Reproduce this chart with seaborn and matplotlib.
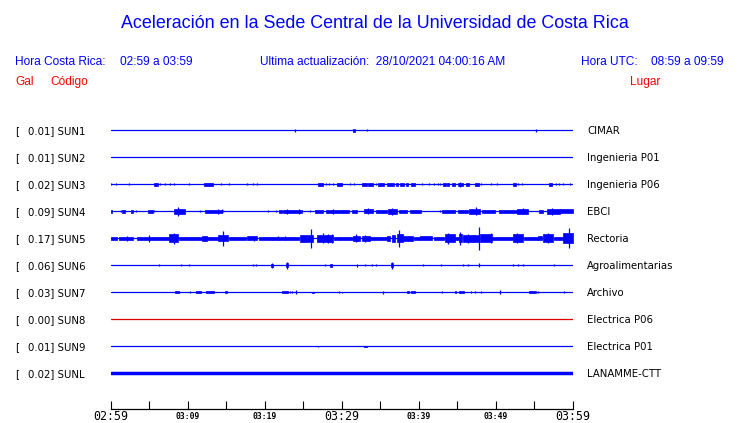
import matplotlib
matplotlib.use("Agg")
import matplotlib.pyplot as plt
import seaborn as sns
import pandas as pd

# stations, peak acceleration (Gal) and place, top to bottom
stations = ["SUN1", "SUN2", "SUN3", "SUN4", "SUN5", "SUN6", "SUN7", "SUN8", "SUN9", "SUNL"]
peak_gal = ["0.01", "0.01", "0.02", "0.09", "0.17", "0.06", "0.03", "0.00", "0.01", "0.02"]
places = ["CIMAR", "Ingenieria P01", "Ingenieria P06", "EBCI", "Rectoria",
          "Agroalimentarias", "Archivo", "Electrica P06", "Electrica P01", "LANAMME-CTT"]
trace_colors = ["#0000ff"] * 7 + ["#e00000"] + ["#0000ff"] * 2

# time axis, minutes after 02:59
tick_minutes = list(range(0, 61, 5))
major_minutes = [0, 30, 60]
major_labels = ["02:59", "03:29", "03:59"]
minor_minutes = [10, 20, 40, 50]
minor_labels = ["03:09", "03:19", "03:39", "03:49"]

# bursts: (start min, end min, half amplitude); start == end is a spike
sun1_bursts = [(23.96, 23.96, 1.3), (31.5, 31.7, 1.3), (33.2, 33.2, 1.0), (55.2, 55.2, 1.3)]
sun2_bursts = []
sun3_bursts = [(0.04, 0.04, 1.2), (0.73, 0.73, 1.2), (2.42, 2.42, 1.2), (5.67, 6.10, 1.3),
               (6.40, 6.40, 1.2), (7.09, 7.09, 1.0), (7.74, 7.74, 1.0), (8.26, 8.26, 1.2),
               (10.21, 10.21, 1.2), (12.07, 13.23, 1.3), (14.36, 14.36, 1.0), (15.35, 15.35, 1.2),
               (17.73, 17.73, 1.0), (18.42, 18.42, 1.0), (19.03, 19.03, 1.0), (26.86, 27.60, 1.3),
               (27.99, 27.99, 1.2), (28.38, 28.38, 1.2), (28.85, 28.85, 1.2), (29.41, 30.02, 1.3),
               (31.01, 31.01, 1.0), (31.53, 31.53, 1.2), (32.57, 33.26, 1.3), (33.39, 34.04, 1.3),
               (34.39, 34.39, 1.0), (34.65, 35.51, 1.3), (35.90, 36.72, 1.3), (37.07, 37.33, 1.3),
               (37.59, 38.07, 1.3), (38.28, 38.54, 1.3), (38.93, 39.45, 1.3), (40.36, 40.36, 1.0),
               (41.31, 41.31, 1.2), (42.00, 42.00, 1.0), (42.44, 42.44, 1.0), (42.78, 42.78, 1.0),
               (43.17, 43.47, 1.3), (43.65, 43.91, 1.3), (44.25, 44.69, 1.3), (45.03, 45.77, 1.7),
               (45.3, 45.3, 2.7), (46.16, 46.50, 1.3), (47.33, 47.76, 1.3), (48.06, 48.06, 1.0),
               (49.40, 49.40, 1.2), (50.18, 50.18, 1.0), (52.26, 52.60, 1.3), (52.86, 52.86, 1.2),
               (53.42, 53.42, 1.2), (56.84, 57.23, 1.3), (57.75, 57.75, 1.0), (58.14, 58.14, 1.0),
               (58.74, 58.74, 1.0), (59.65, 59.65, 1.2)]
sun4_bursts = [(0.0, 0.17, 1.3), (1.29, 1.29, 1.0), (1.51, 1.85, 1.3), (2.64, 2.89, 1.3),
               (3.28, 3.28, 1.0), (4.88, 5.53, 1.5), (5.66, 5.66, 1.0), (8.21, 9.64, 2.7),
               (8.78, 8.78, 4.3), (11.59, 11.59, 1.0), (12.24, 14.40, 1.5), (13.97, 13.97, 2.7),
               (14.40, 14.40, 2.0), (14.62, 14.62, 1.0), (20.37, 20.37, 1.0), (21.45, 21.45, 1.0),
               (21.84, 22.19, 1.3), (22.32, 24.83, 1.8), (22.84, 22.84, 2.7), (24.39, 24.39, 2.7),
               (25.91, 25.91, 1.0), (26.51, 27.51, 1.3), (27.94, 30.19, 1.8), (28.89, 28.89, 2.7),
               (30.19, 30.97, 1.3), (31.28, 32.01, 1.3), (32.88, 34.09, 2.0), (33.44, 33.44, 3.0),
               (34.43, 35.82, 1.3), (35.98, 37.12, 2.3), (36.47, 36.47, 3.3), (37.46, 38.41, 1.3),
               (38.85, 40.23, 1.3), (42.74, 42.74, 1.0), (42.96, 44.69, 1.7), (45.12, 46.42, 1.3),
               (46.50, 47.93, 2.7), (47.41, 47.41, 4.0), (48.14, 49.88, 1.7), (50.44, 52.69, 1.3),
               (52.69, 54.20, 2.3), (53.55, 53.55, 3.0), (55.63, 56.15, 1.3), (56.58, 58.31, 2.3),
               (57.23, 57.23, 3.3), (58.31, 60.0, 2.0)]
sun5_bursts = [(0.0, 0.77, 1.7), (1.12, 2.94, 1.5), (2.16, 2.16, 2.7), (3.4, 7.6, 1.3),
               (5.01, 5.01, 3.3), (7.61, 8.78, 4.0), (8.21, 8.21, 5.7), (8.9, 11.8, 1.3),
               (11.81, 12.45, 2.7), (12.5, 13.9, 1.3), (13.97, 15.27, 3.0), (14.62, 14.62, 7.7),
               (15.4, 17.6, 1.3), (17.65, 18.94, 2.0), (18.60, 18.60, 2.7), (19.3, 24.5, 1.3),
               (20.89, 20.89, 1.7), (21.76, 21.76, 2.0), (22.62, 22.62, 2.0), (24.57, 26.29, 3.3),
               (25.95, 25.95, 9.3), (26.73, 28.89, 3.7), (27.5, 27.5, 5.0), (28.15, 28.15, 4.3),
               (28.75, 28.75, 4.3), (29.0, 31.4, 1.3), (29.67, 29.67, 1.7), (31.49, 32.36, 2.3),
               (31.79, 31.79, 4.0), (32.57, 33.65, 2.3), (33.00, 33.00, 3.3), (33.7, 35.8, 1.3),
               (35.82, 36.25, 2.7), (36.47, 36.90, 3.7), (37.1, 37.9, 4.0), (37.46, 37.46, 8.3),
               (37.98, 39.28, 2.3), (39.3, 40.1, 1.3), (40.14, 41.66, 2.0), (41.95, 43.3, 1.3),
               (43.39, 44.69, 4.0), (43.8, 43.8, 5.3), (44.7, 45.2, 1.3), (45.25, 45.55, 4.0),
               (45.35, 45.35, 6.7), (45.77, 47.07, 3.3), (46.4, 46.4, 4.7), (47.07, 47.75, 3.3),
               (47.98, 49.44, 4.0), (47.84, 47.84, 11.7), (49.3, 49.3, 5.0), (49.5, 52.2, 1.3),
               (52.26, 53.55, 4.0), (52.7, 52.7, 5.0), (53.6, 55.4, 1.3), (55.50, 55.93, 2.0),
               (56.15, 57.46, 4.0), (56.7, 56.7, 5.0), (57.5, 58.7, 1.3), (58.74, 60.0, 5.0),
               (59.5, 59.5, 10.0)]
sun6_bursts = [(6.27, 6.27, 1.0), (9.12, 9.12, 1.0), (10.12, 10.12, 1.0), (18.42, 18.42, 1.0),
               (18.81, 18.81, 1.0), (20.8, 21.0, 1.3), (20.9, 20.9, 2.7), (22.71, 23.01, 2.0),
               (22.86, 22.86, 3.3), (27.81, 27.81, 1.0), (28.46, 28.68, 1.7), (32.01, 32.01, 1.7),
               (33.01, 33.01, 1.0), (33.87, 33.87, 1.0), (34.43, 34.43, 1.0), (36.35, 36.6, 2.0),
               (36.47, 36.47, 3.3), (40.58, 40.58, 1.0), (42.83, 42.83, 1.0), (45.68, 45.68, 1.0),
               (46.33, 46.33, 1.0), (47.84, 47.84, 2.0), (52.26, 52.26, 1.0), (52.91, 52.91, 1.0),
               (53.55, 53.55, 1.0), (57.53, 57.53, 1.0)]
sun7_bursts = [(8.35, 8.86, 1.0), (10.25, 10.25, 1.0), (11.11, 11.72, 1.0), (12.37, 13.45, 1.0),
               (14.83, 15.14, 1.0), (22.23, 22.97, 1.0), (23.23, 23.23, 1.0), (23.49, 23.49, 1.0),
               (24.01, 24.01, 2.0), (26.17, 26.43, 0.7), (29.67, 29.67, 1.0), (29.98, 29.98, 0.7),
               (35.38, 35.38, 1.3), (38.41, 38.71, 1.0), (38.97, 39.45, 1.0), (42.96, 42.96, 1.0),
               (44.69, 44.86, 1.0), (45.21, 45.81, 1.0), (46.81, 46.81, 1.0), (47.33, 47.33, 1.0),
               (48.10, 48.10, 1.0), (50.53, 50.53, 2.0), (54.29, 55.24, 1.0), (55.50, 55.50, 1.0),
               (58.79, 58.79, 1.0)]
sun8_bursts = []
sun9_bursts = [(26.9, 26.9, 0.8), (32.9, 33.3, 0.6)]
sunl_bursts = []
bursts = [sun1_bursts, sun2_bursts, sun3_bursts, sun4_bursts, sun5_bursts,
          sun6_bursts, sun7_bursts, sun8_bursts, sun9_bursts, sunl_bursts]

W, H = 740, 423
first_row, row_step = 130.3, 27.0
axis_y, plot_top = 409.0, 116.8
x_left, x_right = 110.7, 573.0

sns.set_theme(style="white")
plt.rcParams["font.family"] = ["DejaVu Sans"]

fig = plt.figure(figsize=(W / 100, H / 100), dpi=100)
ax = fig.add_axes([x_left / W, (H - axis_y) / H, (x_right - x_left) / W, (axis_y - plot_top) / H])

row_y = [first_row + row_step * i for i in range(len(stations))]
base = pd.DataFrame({
    "station": [s for s in stations for _ in range(2)],
    "t": [t for _ in stations for t in (0, 60)],
    "y": [y for y in row_y for _ in range(2)],
})
widths = {s: (2.5 if s == "SUNL" else 0.9) for s in stations}
sns.lineplot(data=base, x="t", y="y", hue="station", size="station",
             palette=dict(zip(stations, trace_colors)), sizes=widths,
             estimator=None, legend=False, ax=ax)

for y, col, events in zip(row_y, trace_colors, bursts):
    for t0, t1, a in events:
        if t1 > t0:
            ax.fill_between([t0, t1], [y - a] * 2, [y + a] * 2, color=col, lw=0.5)
        else:
            ax.vlines(t0, y - a, y + a, color=col, lw=0.9)

ax.set_xlim(0, 60)
ax.set_ylim(axis_y, plot_top)
ax.set_xlabel("")
ax.set_ylabel("")
ax.set_yticks([])
for side in ["left", "right", "top"]:
    ax.spines[side].set_visible(False)
ax.spines["bottom"].set_color("black")
ax.spines["bottom"].set_linewidth(0.9)

ax.set_xticks(major_minutes)
ax.set_xticklabels(major_labels, family="DejaVu Sans Mono", fontsize=8.4)
ax.set_xticks([m for m in tick_minutes if m not in major_minutes], minor=True)
ax.set_xticklabels([minor_labels[minor_minutes.index(m)] if m in minor_minutes else ""
                    for m in tick_minutes if m not in major_minutes],
                   minor=True, family="DejaVu Sans Mono", fontsize=5.8, fontweight="bold")
ax.tick_params(axis="x", which="both", direction="in", length=5.8, width=0.8,
               color="black", bottom=True)
ax.tick_params(axis="x", which="major", pad=1.0, labelcolor="black")
ax.tick_params(axis="x", which="minor", pad=2.5, labelcolor="black")


def put(px, py, s, **kw):
    fig.text(px / W, 1 - py / H, s, va="baseline", **kw)


blue, red = "#0000ff", "#ff0000"
head = dict(family="Liberation Sans", fontsize=8.6)
put(375, 28.5, "Aceleración en la Sede Central de la Universidad de Costa Rica",
    ha="center", color=blue, family="Liberation Sans", fontsize=12.9)
put(15, 65, "Hora Costa Rica:", color=blue, **head)
put(120, 65, "02:59 a 03:59", color=blue, **head)
put(260, 65, "Ultima actualización:  28/10/2021 04:00:16 AM", color=blue, **head)
put(581, 65, "Hora UTC:", color=blue, **head)
put(651, 65, "08:59 a 09:59", color=blue, **head)
put(15, 85, "Gal", color=red, **head)
put(50, 85, "Código", color=red, **head)
put(630, 85, "Lugar", color=red, **head)

for y, g, s, p in zip(row_y, peak_gal, stations, places):
    put(15, y + 3.7, "[", color="black", fontsize=7.3)
    put(27.7, y + 3.7, f"{g}] {s}", color="black", fontsize=7.3)
    put(587, y + 3.7, p, color="black", fontsize=7.3)

fig.savefig("out.png", dpi=100, facecolor="white")
